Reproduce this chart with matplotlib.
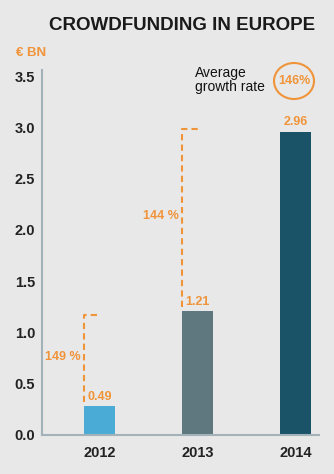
import matplotlib.pyplot as plt
from matplotlib.patches import Ellipse

years = ['2012', '2013', '2014']
bar_heights = [0.28, 1.21, 2.96]
value_labels = ['0.49', '1.21', '2.96']
growth_labels = ['149 %', '144 %']
avg_growth = '146%'
yticks = [0.0, 0.5, 1.0, 1.5, 2.0, 2.5, 3.0, 3.5]

bg = '#e8e8e8'
orange = '#f0943a'
colors = ['#4aacd6', '#5f7880', '#1a5268']

plt.rcParams['font.family'] = ['Liberation Sans', 'DejaVu Sans']

fig = plt.figure(figsize=(3.34, 4.74), dpi=100, facecolor=bg)
ax = fig.add_axes([42 / 334, 39 / 474, 277 / 334, 365 / 474], facecolor=bg)

x = list(range(len(years)))
w = 0.316
ax.bar(x, bar_heights, width=w, color=colors, zorder=2)

ax.set_xlim(-0.587, 2.24)
ax.set_ylim(0, 3.56)
ax.set_yticks(yticks)
ax.set_yticklabels([f'{v:.1f}' for v in yticks], fontsize=10.5, fontweight='bold', color='#222222')
ax.set_xticks(x)
ax.set_xticklabels(years, fontsize=10.5, fontweight='bold', color='#222222')
ax.tick_params(length=0, pad=5)
ax.tick_params(axis='x', pad=8)
for s in ['top', 'right']:
    ax.spines[s].set_visible(False)
for s in ['left', 'bottom']:
    ax.spines[s].set_color('#a3b2b8')
    ax.spines[s].set_linewidth(1.5)

# value labels
for xi, h, lab in zip(x, bar_heights, value_labels):
    ax.text(xi, h + 0.03, lab, ha='center', va='bottom', fontsize=9,
            fontweight='bold', color=orange)

# growth brackets
for i, lab in enumerate(growth_labels):
    xl = x[i] - w / 2
    y0 = bar_heights[i] + 0.04
    y1 = bar_heights[i + 1] - 0.04 if i == 0 else bar_heights[i + 1] + 0.02
    ax.plot([xl, xl, xl + 0.17], [y0, y1, y1], ls=(0, (3, 2)), color=orange,
            lw=1.5, zorder=3)
    ax.text(xl - 0.03, (y0 + y1) / 2 + 0.02, lab, ha='right', va='center',
            fontsize=9, fontweight='bold', color=orange)

fig.text(182 / 334, 1 - 25 / 474, 'CROWDFUNDING IN EUROPE', ha='center',
         va='center', fontsize=13.5, fontweight='bold', color='#1a1a1a')
fig.text(16 / 334, 1 - 53 / 474, '€ BN', ha='left', va='center', fontsize=9.5,
         fontweight='bold', color=orange)
fig.text(195 / 334, 1 - 80 / 474, 'Average\ngrowth rate', ha='left',
         va='center', fontsize=10, color='#111111', linespacing=1.05)
fig.patches.append(Ellipse((294 / 334, 1 - 81 / 474), 40 / 334, 36 / 474,
                           transform=fig.transFigure, fill=False,
                           edgecolor=orange, lw=1.5))
fig.text(294 / 334, 1 - 81 / 474, avg_growth, ha='center', va='center',
         fontsize=9, fontweight='bold', color=orange)

fig.savefig('out.png', dpi=100, facecolor=bg)
